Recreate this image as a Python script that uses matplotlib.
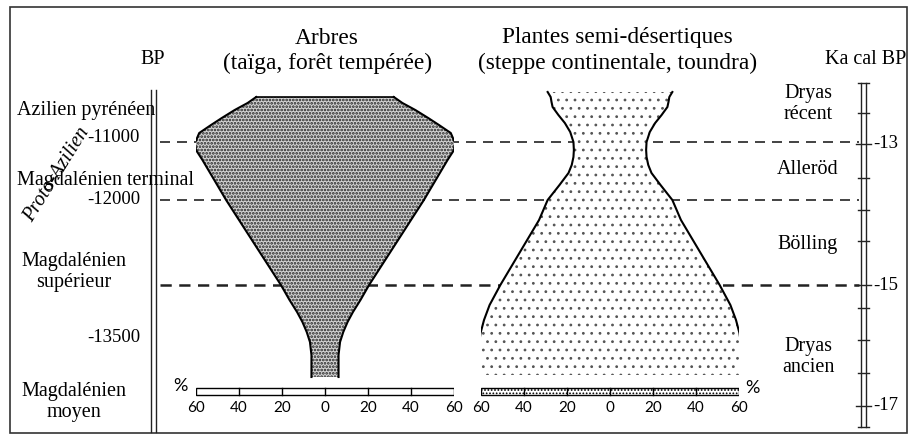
import matplotlib.pyplot as plt
from matplotlib.patches import Rectangle

# vertical position of each level (row, from top of figure) and % values
arbres_rows = [97, 103, 110, 118, 125, 133, 143, 150, 160, 200, 240, 285, 300, 312, 322, 332, 342, 355, 377]
arbres = [32, 36, 42, 48, 53, 58.5, 60.5, 60, 57, 46, 34, 20.5, 16.5, 13, 10.5, 8.5, 7, 6.3, 6.3]

plantes_rows = [92, 97, 102, 107, 115, 123, 132, 142, 150, 157, 165, 173, 185, 200, 220, 285, 305, 320, 333, 345, 360, 375]
plantes = [29, 27.6, 27.2, 26.7, 24, 21, 18.5, 17, 16.8, 17, 17.8, 19.3, 23.5, 29, 33, 51, 56, 58.6, 60.2, 61, 61.5, 61.6]

pct_ticks = [-60, -40, -20, 0, 20, 40, 60]

# boundaries (dashed lines)
limit_rows = [142, 200, 285]

# left scale (BP)
bp_labels = ["-11000", "-12000", "-13500"]
bp_rows = [137, 200, 338]
cultures = ["Azilien pyrénéen", "Magdalénien terminal", "Magdalénien\nsupérieur", "Magdalénien\nmoyen"]
culture_rows = [110, 180, 272, 402]

# right scale (Ka cal BP)
ka_ticks = [-12, -12.5, -13, -13.5, -14, -14.5, -15, -15.5, -16, -16.5, -17, -17.25]
ka_rows = [83, 113, 144, 178, 210, 241, 285, 308, 340, 373, 406, 427]
ka_labelled = [-13, -15, -17]
periods = ["Dryas\nrécent", "Alleröd", "Bölling", "Dryas\nancien"]
period_rows = [104, 170, 245, 357]

serif = "Liberation Serif"
W, H = 909, 438
fs = 14.5

fig = plt.figure(figsize=(9.09, 4.38), dpi=100)
ax = fig.add_axes([0, 0, 1, 1])
ax.set_xlim(0, W)
ax.set_ylim(H, 0)
ax.axis("off")

ax.add_patch(Rectangle((10, 7), 897, 426, fill=False, lw=1.2, ec="#333"))

# dashed limits
for i, r in enumerate(limit_rows):
    ax.plot([160, 859], [r, r], color="#222", lw=1.8 if i == 2 else 1.2,
            dashes=[6, 4.2] if i < 2 else [4.5, 3])

# left double line
ax.plot([151, 151], [90, 432], color="#222", lw=1)
ax.plot([156, 156], [90, 432], color="#222", lw=1)

ax.text(153, 60, "BP", ha="center", va="center", family=serif, fontsize=fs)
for lab, r in zip(bp_labels, bp_rows):
    ax.text(140, r, lab, ha="right", va="center", family=serif, fontsize=13.5)
for lab, r in zip(cultures, culture_rows):
    if "\n" in lab:
        ax.text(74, r, lab, ha="center", va="center", family=serif, fontsize=fs, linespacing=1.2)
    else:
        ax.text(17, r, lab, ha="left", va="center", family=serif, fontsize=fs)
ax.text(57, 175, "Proto-Azilien", ha="center", va="center", family=serif, fontsize=14.5,
        style="italic", rotation=58)

# right ruler
ax.plot([861, 861], [ka_rows[0], ka_rows[-1]], color="#222", lw=1)
ax.plot([866, 866], [ka_rows[0], ka_rows[-1]], color="#222", lw=1)
for t, r in zip(ka_ticks, ka_rows):
    if t in ka_labelled:
        ax.plot([856, 871], [r, r], color="#222", lw=1)
        ax.text(873, r, "%d" % t, ha="left", va="center", family=serif, fontsize=13.5)
    else:
        ax.plot([858, 869], [r, r], color="#222", lw=1)
ax.text(906, 60, "Ka cal BP", ha="right", va="center", family=serif, fontsize=fs)
for lab, r in zip(periods, period_rows):
    ax.text(808, r, lab, ha="center", va="center", family=serif, fontsize=fs, linespacing=1.15)


def spindle(left_px, rows, vals, title, title_x, hatch, hcolor, face, closed_top, bar_hatch):
    a = fig.add_axes([left_px / W, 0, 258 / W, 1])
    a.set_xlim(-60, 60)
    a.set_ylim(H, 0)
    a.axis("off")
    a.patch.set_alpha(0)
    neg = [-v for v in vals]
    a.fill_betweenx(rows, neg, vals, facecolor=face, edgecolor=hcolor, hatch=hatch, lw=0)
    a.plot(vals, rows, color="k", lw=1.5)
    a.plot(neg, rows, color="k", lw=1.5)
    if closed_top:
        a.plot([neg[0], vals[0]], [rows[0], rows[0]], color="k", lw=1.2)
    # scale bar
    a.add_patch(Rectangle((-60, 388), 120, 7, facecolor="white", edgecolor="k",
                          lw=1, hatch=bar_hatch))
    for t in pct_ticks[1:-1]:
        a.plot([t, t], [388, 395], color="k", lw=1)
    for t in pct_ticks:
        a.text(t, 408, str(abs(t)), ha="center", va="center", fontsize=11, family="Lato")
    a.text(title_x, 38, title[0], ha="center", va="center", family=serif, fontsize=16.8)
    a.text(title_x, 63, title[1], ha="center", va="center", family=serif, fontsize=16.8)
    return a


plt.rcParams["hatch.linewidth"] = 1.3
ax_a = spindle(196, arbres_rows, arbres, ("Arbres", "(taïga, forêt tempérée)"), 1,
               ".....", "#222", "#d4d4d4", True, None)
plt.rcParams["hatch.linewidth"] = 0.8
ax_p = spindle(481, plantes_rows, plantes,
               ("Plantes semi-désertiques", "(steppe continentale, toundra)"), 3.5,
               "..", "#555", "white", False, ".....")

ax.text(180, 386, "%", ha="center", va="center", fontsize=13, family="Lato")
ax.text(752, 388, "%", ha="center", va="center", fontsize=13, family="Lato")

fig.savefig("out.png", dpi=100)
